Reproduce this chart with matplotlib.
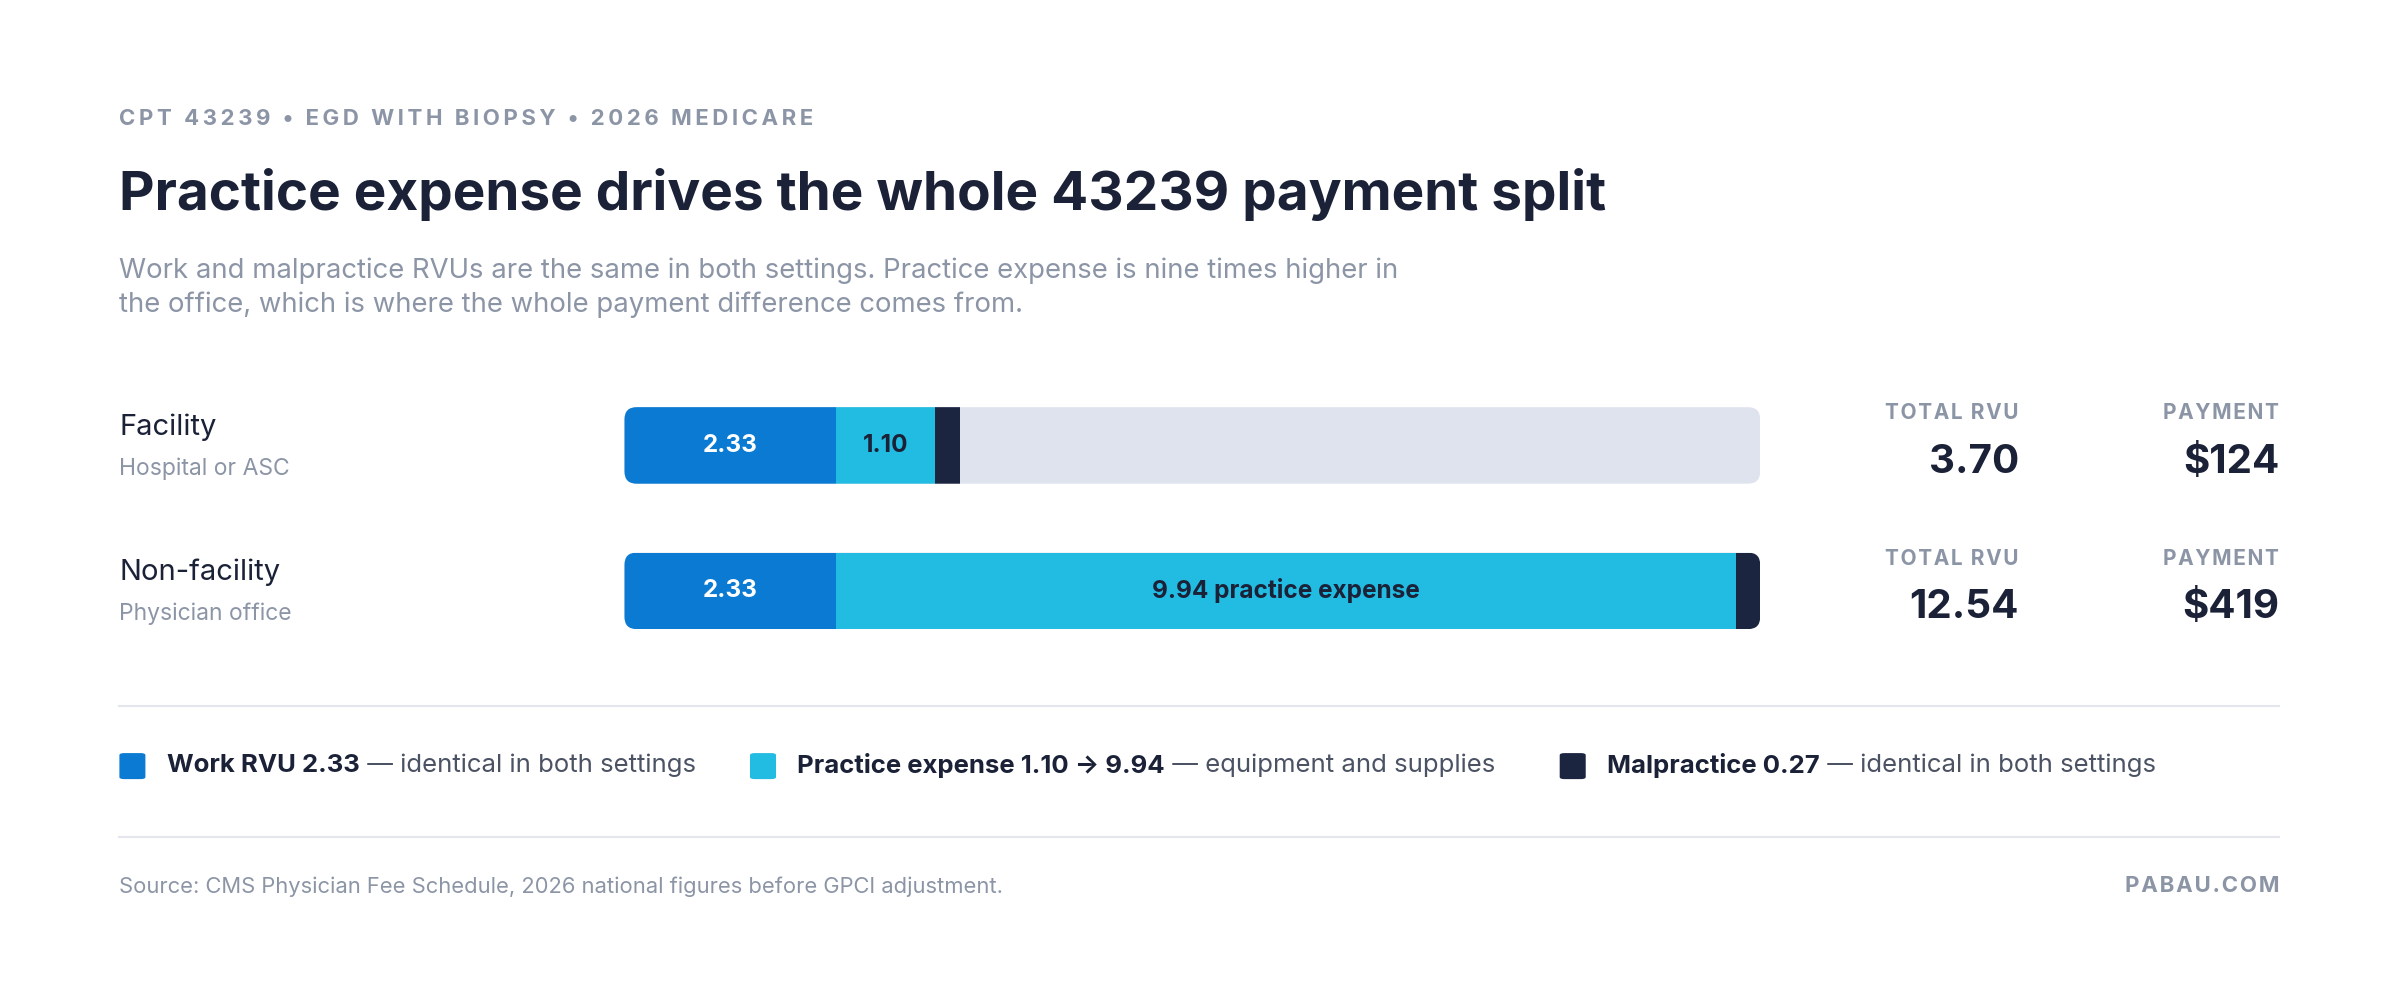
import matplotlib.pyplot as plt
from matplotlib.patches import FancyBboxPatch, Rectangle

plt.rcParams['font.family'] = ['Inter', 'DejaVu Sans']

rows = ["Facility", "Non-facility"]
subs = ["Hospital or ASC", "Physician office"]
work = [2.33, 2.33]
pe = [1.10, 9.94]
mp = [0.27, 0.27]
totals = ["3.70", "12.54"]
payments = ["$124", "$419"]
max_rvu = 12.54

C_WORK, C_PE, C_MP, C_TRACK = "#0a7ad2", "#22bbe1", "#1b2540", "#dfe3ee"
DARK, GRAY = "#1b2238", "#8c95a6"

W, H = 1568, 652
fig = plt.figure(figsize=(24, 9.98), dpi=100)

def fx(x): return x / W
def fy(y): return 1 - y / H

def spaced(s, sp="\u2009"):
    # letter-spaced caps
    return sp.join(s)

fig.text(fx(78), fy(78), spaced("CPT 43239 • EGD WITH BIOPSY • 2026 MEDICARE"), fontsize=16,
         color=GRAY, weight="bold", va="center")
fig.text(fx(78), fy(127), "Practice expense drives the whole 43239 payment split", fontsize=39.5,
         color=DARK, weight="bold", va="center")
fig.text(fx(78), fy(188), "Work and malpractice RVUs are the same in both settings. Practice expense is nine times higher in\n"
         "the office, which is where the whole payment difference comes from.", fontsize=19.8,
         color=GRAY, va="center", linespacing=1.4)

# bar axes: y axis in reference pixels
ax = fig.add_axes([fx(408), fy(411), fx(1150) - fx(408), (411 - 266) / H])
ax.set_xlim(0, max_rvu)
ax.set_ylim(411, 266)
ax.axis("off")
px_per_unit = (1150 - 408) / max_rvu
tops = [266, 361]
bh = 50
r = 8 / px_per_unit

for i, top in enumerate(tops):
    clip = FancyBboxPatch((0, top), max_rvu, bh, boxstyle=f"round,pad=0,rounding_size={r}",
                          mutation_aspect=px_per_unit, fc=C_TRACK, ec="none")
    ax.add_patch(clip)
    left = 0
    for val, col in [(work[i], C_WORK), (pe[i], C_PE), (mp[i], C_MP)]:
        rect = Rectangle((left, top), val, bh, fc=col, ec="none")
        rect.set_clip_path(clip)
        ax.add_patch(rect)
        left += val
    ax.text(work[i] / 2, top + bh / 2, f"{work[i]:.2f}", color="white", fontsize=17.5,
            weight="bold", ha="center", va="center")
    lbl = f"{pe[i]:.2f}" if i == 0 else f"{pe[i]:.2f} practice expense"
    ax.text(work[i] + pe[i] / 2, top + bh / 2, lbl, color=DARK, fontsize=17.5,
            weight="bold", ha="center", va="center")

    cy = top + bh / 2
    fig.text(fx(78), fy(cy - 12), rows[i], fontsize=21, color=DARK, va="center")
    fig.text(fx(78), fy(cy + 15), subs[i], fontsize=16.5, color=GRAY, va="center")
    fig.text(fx(1319), fy(cy - 21), spaced("TOTAL RVU", "\u200a"), fontsize=15, color=GRAY,
             weight="bold", ha="right", va="center")
    fig.text(fx(1319), fy(cy + 11), totals[i], fontsize=29, color=DARK, weight="bold",
             ha="right", va="center")
    fig.text(fx(1489), fy(cy - 21), spaced("PAYMENT", "\u200a"), fontsize=15, color=GRAY,
             weight="bold", ha="right", va="center")
    fig.text(fx(1489), fy(cy + 11), payments[i], fontsize=29, color=DARK, weight="bold",
             ha="right", va="center")

for y in (461, 547):
    fig.add_artist(plt.Line2D([fx(78), fx(1489)], [fy(y), fy(y)], color="#e3e6ec", lw=1.5))

legend = [(C_WORK, "Work RVU 2.33", " — identical in both settings", 78),
          (C_PE, "Practice expense 1.10 → 9.94", " — equipment and supplies", 490),
          (C_MP, "Malpractice 0.27", " — identical in both settings", 1019)]
for col, bold, rest, x in legend:
    fig.add_artist(FancyBboxPatch((fx(x), fy(509)), fx(17), 17 / H,
                                  boxstyle="round,pad=0,rounding_size=0.002",
                                  transform=fig.transFigure, fc=col, ec="none"))
    t = fig.text(fx(x + 31), fy(500), bold, fontsize=18.5, color=DARK, weight="bold", va="center")
    fig.canvas.draw()
    bb = t.get_window_extent()
    fig.text(bb.x1 / fig.bbox.width, fy(500), rest, fontsize=18.5, color="#4a5263", va="center")

fig.text(fx(78), fy(579), "Source: CMS Physician Fee Schedule, 2026 national figures before GPCI adjustment.",
         fontsize=15.8, color=GRAY, va="center")
fig.text(fx(1489), fy(579), spaced("PABAU.COM", "\u200a"), fontsize=16, color=GRAY, weight="bold",
         ha="right", va="center")

fig.savefig("out.png", dpi=100, facecolor="white")
